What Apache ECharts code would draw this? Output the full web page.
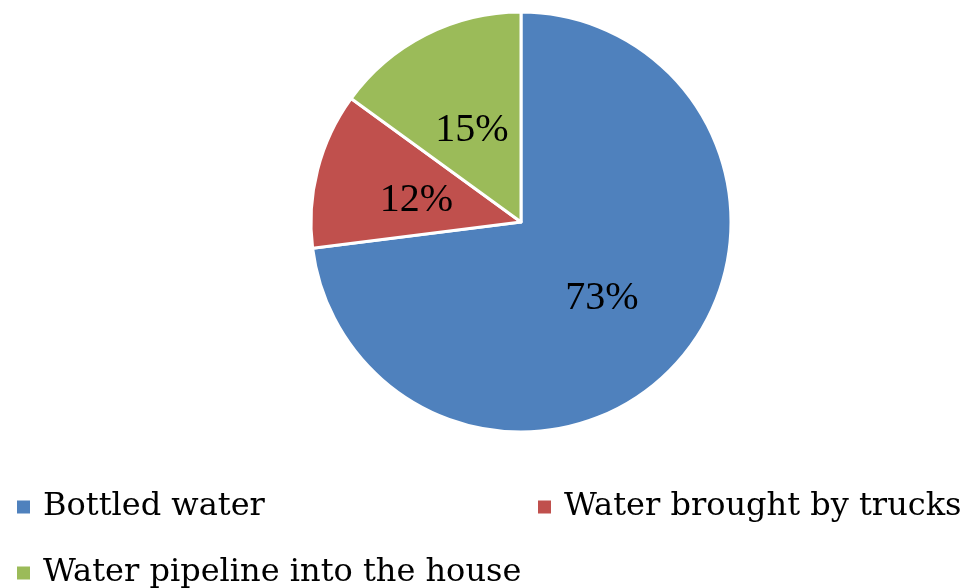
<!DOCTYPE html>
<html>
<head>
<meta charset="utf-8">
<script src="https://cdn.jsdelivr.net/npm/echarts@6/dist/echarts.min.js"></script>
<style>
  html, body { margin: 0; padding: 0; background: #fff; }
  #chart { width: 974px; height: 588px; }
</style>
</head>
<body>
<div id="chart"></div>
<script>
// water source shares, in percent
const categories = ["Bottled water", "Water brought by trucks", "Water pipeline into the house"];
const shares = [73, 12, 15];
const colors = ["#4F81BD", "#C0504D", "#9BBB59"];

const myChart = echarts.init(document.getElementById("chart"));

const legendAt = (name, left, top) => ({
  data: [name],
  left: left,
  top: top,
  itemWidth: 15,
  itemHeight: 15,
  icon: "rect",
  textStyle: {
    fontFamily: "DejaVu Serif",
    fontSize: 32,
    color: "#000",
    padding: [0, 0, 0, 7],
  },
});

let option = {
  animation: false,
  backgroundColor: "#fff",
  color: colors,
  legend: [
    legendAt(categories[0], 10, 486),
    legendAt(categories[1], 531, 486),
    legendAt(categories[2], 10, 552),
  ],
  series: [
    {
      type: "pie",
      center: [521, 222],
      radius: 210,
      startAngle: 90,
      clockwise: true,
      itemStyle: { borderColor: "#fff", borderWidth: 3 },
      label: {
        position: "inside",
        formatter: "{c}%",
        fontFamily: "Liberation Serif",
        fontSize: 40,
        color: "#000",
        offset: [0, 5],
      },
      labelLine: { show: false },
      emphasis: { disabled: true },
      data: categories.map((c, i) => ({ name: c, value: shares[i] })),
    },
  ],
};
myChart.setOption(option);
</script>
</body>
</html>
